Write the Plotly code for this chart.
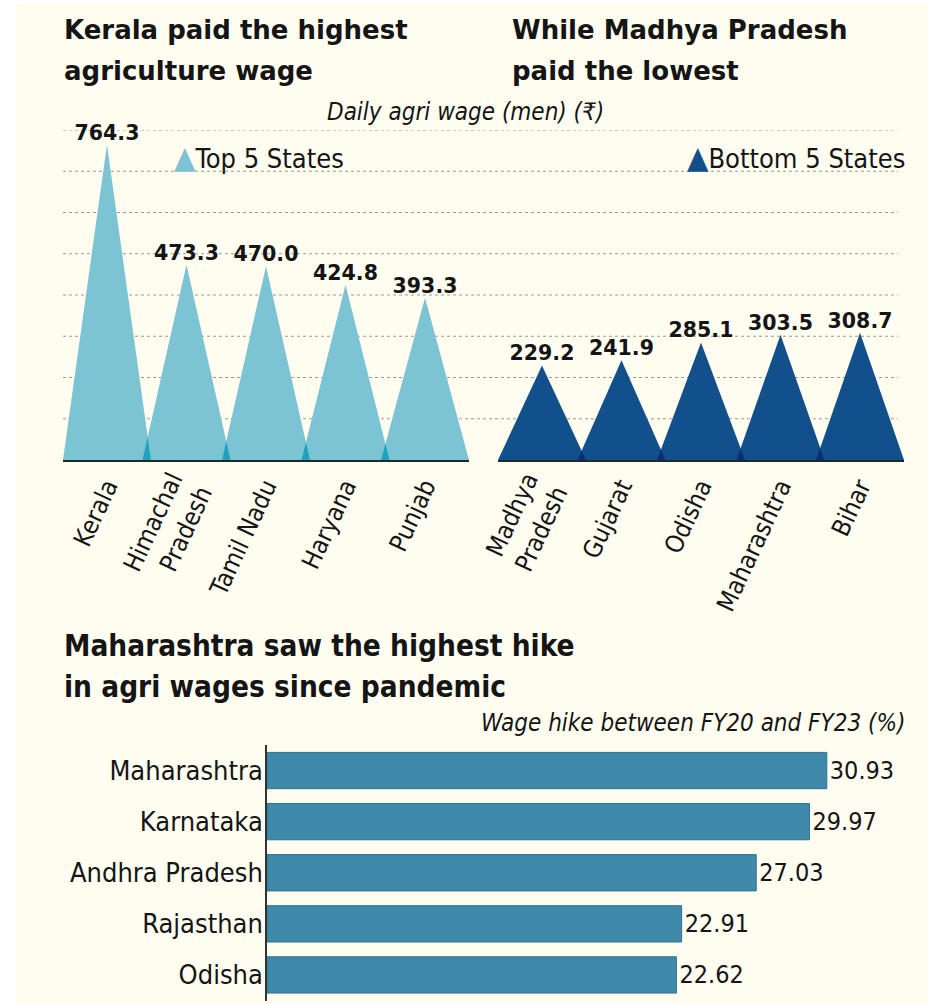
import plotly.graph_objects as go

# ---------------- data ----------------
top_states = ["Kerala", "Himachal<br>Pradesh", "Tamil Nadu", "Haryana", "Punjab"]
top_wages = [764.3, 473.3, 470.0, 424.8, 393.3]

bottom_states = ["Madhya<br>Pradesh", "Gujarat", "Odisha", "Maharashtra", "Bihar"]
bottom_wages = [229.2, 241.9, 285.1, 303.5, 308.7]

hike_states = ["Maharashtra", "Karnataka", "Andhra Pradesh", "Rajasthan", "Odisha"]
hike_values = [30.93, 29.97, 27.03, 22.91, 22.62]

grid_values = [100, 200, 300, 400, 500, 600, 700, 800]

# ---------------- style ----------------
W, H = 928, 1004
BG = "#fefdf0"
LIGHT = "#7cc4d3"
LIGHT_OV = "#1ea3bf"
NAVY = "#12508b"
NAVY_OV = "#0b2d78"
BAR = "#3f8aab"
TXT = "#151515"
COND = "DejaVu Sans Condensed, sans-serif"
HALF = 0.553  # triangle half width in category units


def px(x):
    return x / W


def py(y):
    return 1 - y / H


fig = go.Figure()


def add_triangles(values, color, ov_color, xa, ya):
    n = len(values)
    for i, v in enumerate(values):
        fig.add_trace(go.Scatter(
            x=[i - HALF, i, i + HALF, i - HALF], y=[0, v, 0, 0],
            mode="lines", fill="toself", fillcolor=color,
            line=dict(width=0, color=color), hoverinfo="skip",
            xaxis=xa, yaxis=ya, showlegend=False))
    # overlapping parts of neighbouring triangles
    for i in range(n - 1):
        h1, h2 = values[i], values[i + 1]
        xi = (h1 * (i + HALF) + h2 * (i + 1 - HALF)) / (h1 + h2)
        yi = h1 * (i + HALF - xi) / HALF
        fig.add_trace(go.Scatter(
            x=[i + 1 - HALF, xi, i + HALF, i + 1 - HALF], y=[0, yi, 0, 0],
            mode="lines", fill="toself", fillcolor=ov_color,
            line=dict(width=0, color=ov_color), hoverinfo="skip",
            xaxis=xa, yaxis=ya, showlegend=False))
    fig.add_trace(go.Scatter(
        x=list(range(n)), y=values, mode="text",
        text=[f"{v:.1f}" for v in values], textposition="top center",
        textfont=dict(family="DejaVu Sans", size=20.5, color=TXT, weight="bold"),
        cliponaxis=False, hoverinfo="skip", xaxis=xa, yaxis=ya,
        showlegend=False))


add_triangles(top_wages, LIGHT, LIGHT_OV, "x", "y")
add_triangles(bottom_wages, NAVY, NAVY_OV, "x2", "y2")

fig.add_trace(go.Bar(
    x=hike_values, y=hike_states, orientation="h",
    marker=dict(color=BAR, line=dict(color="#2f7193", width=1)),
    texttemplate="%{x:.2f}", textposition="outside",
    textfont=dict(family=COND, size=25, color=TXT),
    cliponaxis=False, hoverinfo="skip", xaxis="x3", yaxis="y3",
    showlegend=False))

tri_y_domain = [py(460), py(130)]
tick_font = dict(family=COND, size=25, color=TXT)

fig.update_layout(
    width=W, height=H,
    margin=dict(l=0, r=0, t=0, b=0, autoexpand=False),
    paper_bgcolor=BG, plot_bgcolor="rgba(0,0,0,0)",
    showlegend=False,
    bargap=0.29,
    xaxis=dict(domain=[px(63), px(469)], range=[-HALF, len(top_wages) - 1 + HALF],
               anchor="y", showgrid=False, zeroline=False, showline=True, automargin=False,
               linecolor="#1b2b2b", linewidth=2,
               tickmode="array", tickvals=list(range(len(top_states))),
               ticktext=top_states, tickangle=-65, tickfont=tick_font, ticks=""),
    yaxis=dict(domain=tri_y_domain, range=[0, 800], anchor="x", visible=False,
               automargin=False),
    xaxis2=dict(domain=[px(498), px(904)], range=[-HALF, len(bottom_wages) - 1 + HALF],
                anchor="y2", showgrid=False, zeroline=False, showline=True, automargin=False,
                linecolor="#1b2b2b", linewidth=2,
                tickmode="array", tickvals=list(range(len(bottom_states))),
                ticktext=bottom_states, tickangle=-65, tickfont=tick_font, ticks=""),
    yaxis2=dict(domain=tri_y_domain, range=[0, 800], anchor="x2", visible=False,
                automargin=False),
    xaxis3=dict(domain=[px(267), px(905)], range=[0, 35.25], anchor="y3", visible=False,
                automargin=False),
    yaxis3=dict(domain=[py(1000.5), py(745)], autorange="reversed", anchor="x3",
                automargin=False, showline=True, linecolor="#333333", linewidth=1.5,
                showgrid=False, ticks="", tickfont=dict(family=COND, size=27, color=TXT),
                ticklabelstandoff=-3),
)

shapes = [dict(type="rect", xref="paper", yref="paper", x0=0, x1=px(16), y0=0, y1=1,
               fillcolor="white", line=dict(width=0), layer="below"),
          dict(type="rect", xref="paper", yref="paper", x0=0, x1=1, y0=py(3), y1=1,
               fillcolor="white", line=dict(width=0), layer="below")]
for g in grid_values:
    shapes.append(dict(type="line", xref="paper", yref="y", x0=px(63), x1=px(898),
                       y0=g, y1=g, line=dict(color="#9a9a9a", width=1, dash="dot"),
                       layer="below"))
fig.update_layout(shapes=shapes)

title_font = dict(family="DejaVu Sans, sans-serif", size=26, color=TXT, weight="bold")
ann = []


def text(x, y, s, font, xanchor="left"):
    ann.append(dict(x=px(x), y=py(y), xref="paper", yref="paper", text=s,
                    showarrow=False, xanchor=xanchor, yanchor="middle", font=font))


text(62, 30, "Kerala paid the highest", title_font)
text(62, 71, "agriculture wage", title_font)
text(510, 30, "While Madhya Pradesh", title_font)
text(510, 71, "paid the lowest", title_font)
sub_font = dict(family=COND, size=24, color=TXT, style="italic")
text(465, 112, "Daily agri wage (men) (₹)", sub_font, xanchor="center")
leg_font = dict(family=COND, size=27, color=TXT)
tri_l = f"<span style='color:{LIGHT};font-size:31px'>▲</span>"
tri_n = f"<span style='color:{NAVY};font-size:31px'>▲</span>"
text(172, 157, tri_l + "Top 5 States", leg_font)
text(907, 157, tri_n + "Bottom 5 States", leg_font, xanchor="right")
title2_font = dict(family=COND, size=29.5, color=TXT, weight="bold")
text(62, 646, "Maharashtra saw the highest hike", title2_font)
text(62, 687, "in agri wages since pandemic", title2_font)
text(907, 723, "Wage hike between FY20 and FY23 (%)", sub_font, xanchor="right")
fig.update_layout(annotations=ann)

fig.write_html("out.html", config={"displayModeBar": False},
               post_script="document.body.style.margin='0';")
